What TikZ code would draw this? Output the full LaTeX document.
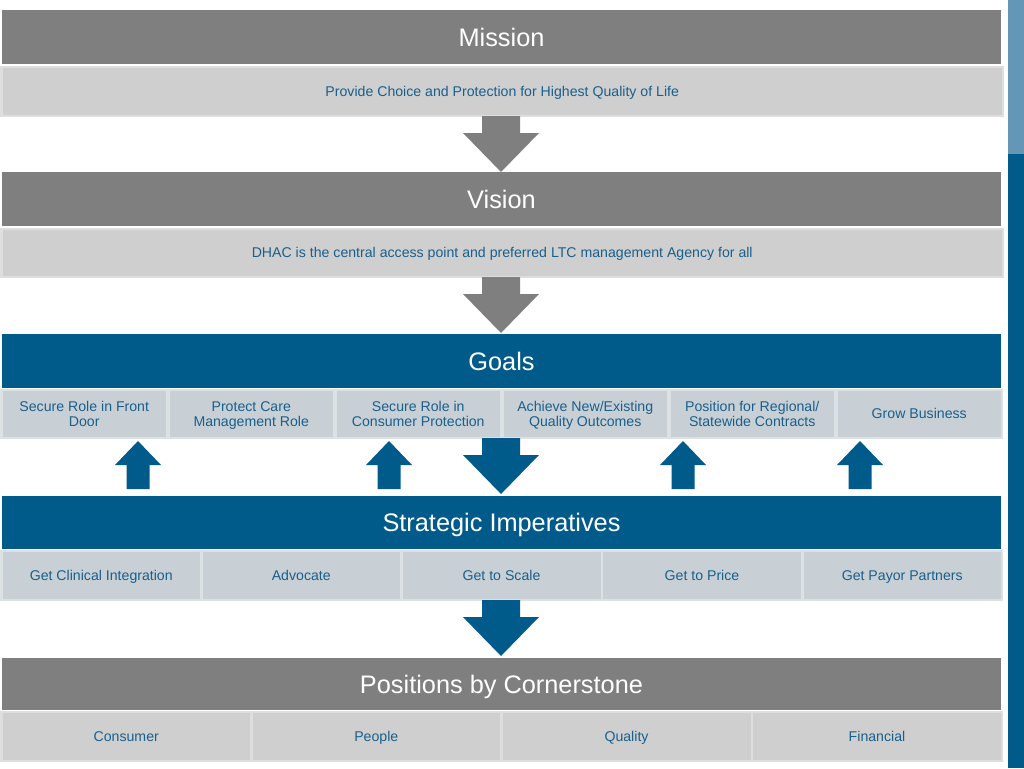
\documentclass[tikz,border=0pt]{standalone}
\usepackage{fontspec}
\setmainfont{Liberation Sans}
\definecolor{hdrgray}{RGB}{127,127,127}
\definecolor{subgray}{RGB}{207,207,207}
\definecolor{subedge}{RGB}{222,222,222}
\definecolor{dblue}{RGB}{0,91,138}
\definecolor{lblue}{RGB}{100,150,182}
\definecolor{goalfill}{RGB}{200,208,213}
\definecolor{goaledge}{RGB}{220,225,228}
\definecolor{txtblue}{RGB}{25,95,140}
\newcommand\blk[7]{\node[#1,minimum width={(#5-#3)*0.75pt},minimum height={(#6-#4)*0.75pt}] (#2) at ({(#3+#5)/2},{(#4+#6)/2}) {#7};}
\newcommand\dnarr[2]{\fill[#1] (#2) ++(-19,0) -- ++(38,0) -- ++(0,17) -- ++(19,0) -- ++(-38,39) -- ++(-38,-39) -- ++(19,0) -- cycle;}
\newcommand\uparr[2]{\fill[#1] (#2) ++(-11.5,0) -- ++(23,0) -- ++(0,-24) -- ++(11.5,0) -- ++(-23,-24) -- ++(-23,24) -- ++(11.5,0) -- cycle;}
\begin{document}
\begin{tikzpicture}[x=0.75pt,y=-0.75pt,
  box/.style={rectangle,inner sep=0pt,outer sep=0pt,align=center,text depth=0pt},
  hdrg/.style={box,fill=hdrgray,text=white,font=\fontsize{19}{22}\selectfont},
  hdrb/.style={box,fill=dblue,text=white,font=\fontsize{19}{22}\selectfont},
  subg/.style={box,fill=subgray,draw=subedge,line width=1.5pt,text=txtblue,font=\fontsize{10.6}{11.3}\selectfont},
  subb/.style={box,fill=goalfill,draw=goaledge,line width=1.5pt,text=txtblue,font=\fontsize{10.6}{11.3}\selectfont}]
\useasboundingbox (0,0) rectangle (1024,768);
% side bar
\fill[lblue] (1008,0) rectangle (1024,154);
\fill[dblue] (1008,154) rectangle (1024,768);
% Mission
\blk{hdrg}{mission}{2}{10}{1001}{64}{Mission}
\blk{subg}{missionsub}{1.5}{66.5}{1003}{116}{Provide Choice and Protection for Highest Quality of Life}
% Vision
\blk{hdrg}{vision}{2}{172}{1001}{226}{Vision}
\blk{subg}{visionsub}{1.5}{228.5}{1003}{277}{DHAC is the central access point and preferred LTC management Agency for all}
% Goals
\blk{hdrb}{goals}{2}{334}{1001}{388}{Goals}
\blk{subb}{g1}{1.5}{389.5}{167}{438}{Secure Role in Front\\Door}
\blk{subb}{g2}{168.5}{389.5}{334}{438}{Protect Care\\Management Role}
\blk{subb}{g3}{335.5}{389.5}{501}{438}{Secure Role in\\Consumer Protection}
\blk{subb}{g4}{502.5}{389.5}{668}{438}{Achieve New/Existing\\Quality Outcomes}
\blk{subb}{g5}{669.5}{389.5}{835}{438}{Position for Regional/\\Statewide Contracts}
\blk{subb}{g6}{836.5}{389.5}{1002}{438}{Grow Business}
% Strategic Imperatives
\blk{hdrb}{strat}{2}{496}{1001}{549}{Strategic Imperatives}
\blk{subb}{s1}{1.5}{550.5}{201}{600}{Get Clinical Integration}
\blk{subb}{s2}{201.5}{550.5}{401}{600}{Advocate}
\blk{subb}{s3}{401.5}{550.5}{601.5}{600}{Get to Scale}
\blk{subb}{s4}{602}{550.5}{802}{600}{Get to Price}
\blk{subb}{s5}{802.5}{550.5}{1002}{600}{Get Payor Partners}
% Positions
\blk{hdrg}{pos}{2}{658}{1001}{710}{Positions by Cornerstone}
\blk{subg}{p1}{1.5}{711.5}{251}{761}{Consumer}
\blk{subg}{p2}{251.5}{711.5}{501}{761}{People}
\blk{subg}{p3}{501.5}{711.5}{751.5}{761}{Quality}
\blk{subg}{p4}{752}{711.5}{1002}{761}{Financial}
% arrow anchors
\coordinate (a1) at (501,116);
\coordinate (a2) at (501,277);
\coordinate (a3) at (501,438);
\coordinate (a4) at (501,600);
\coordinate (u1) at (138,489);
\coordinate (u2) at (389,489);
\coordinate (u3) at (683,489);
\coordinate (u4) at (860,489);
% arrows
\dnarr{hdrgray}{a1}
\dnarr{hdrgray}{a2}
\dnarr{dblue}{a3}
\dnarr{dblue}{a4}
\uparr{dblue}{u1}
\uparr{dblue}{u2}
\uparr{dblue}{u3}
\uparr{dblue}{u4}
\end{tikzpicture}
\end{document}
